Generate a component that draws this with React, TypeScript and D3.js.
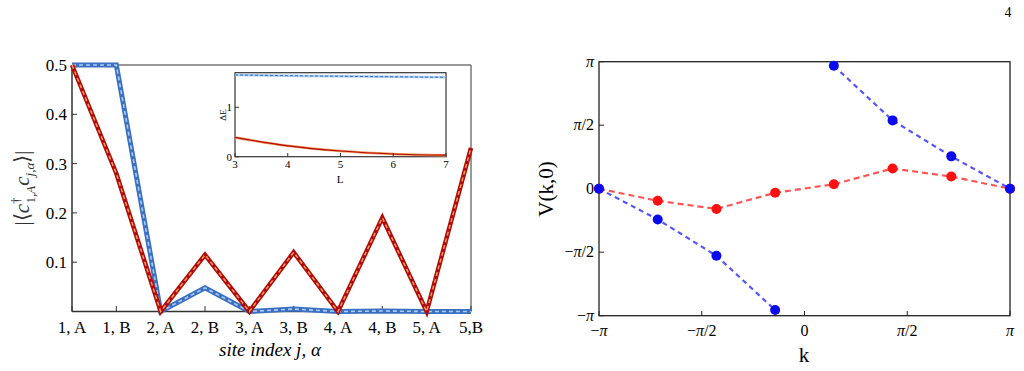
import React, { useEffect } from 'react';
import * as d3 from 'd3';

// left panel: correlation vs site
const sites = ['1, A', '1, B', '2, A', '2, B', '3, A', '3, B', '4, A', '4, B', '5, A', '5,B'];
const redCorr = [0.5, 0.28, 0, 0.115, 0, 0.12, 0, 0.19, 0, 0.332];
const blueCorr = [0.5, 0.5, 0, 0.048, 0, 0.005, 0, 0.001, 0, 0.0];
const corrTicks = [0.1, 0.2, 0.3, 0.4, 0.5];

// inset: gap vs L
const insetL = [3, 4, 5, 6, 7];
const insetRed = [0.39, 0.22, 0.115, 0.055, 0.03];
const insetBlue = [1.655, 1.64, 1.628, 1.617, 1.607];

// right panel: V(k,0)
const kIndex = [0, 1, 2, 3, 4, 5, 6, 7];
const redV = [0, -0.3, -0.5, -0.1, 0.11, 0.5, 0.3, 0];
const blueV = [0, -0.76, -1.66, -3.0, 3.04, 1.69, 0.8, 0];
const blueBreak = 4; // wrap between index 3 and 4
const piTicks = [-1, -0.5, 0, 0.5, 1];
const piLabels = [['\u2212', 'π', ''], ['\u2212', 'π', '/2'], ['', '', '0'], ['', 'π', '/2'], ['', 'π', '']];

const serif = '"Liberation Serif", "Times New Roman", serif';

const PiLabel = ({ parts }: { parts: string[] }) => (
  <>
    {parts[0]}
    <tspan fontStyle="italic">{parts[1]}</tspan>
    {parts[2]}
  </>
);

const App = () => {
  useEffect(() => {
    document.body.style.margin = '0';
  }, []);

  // left
  const x = d3.scalePoint().domain(sites).range([72, 471]);
  const y = d3.scaleLinear().domain([0, 0.5]).range([311.5, 65]);
  const line = d3.line<number>().x((d, i) => x(sites[i])!).y(d => y(d));

  // inset
  const ix = d3.scaleLinear().domain([3, 7]).range([235, 446]);
  const iy = d3.scaleLinear().domain([0, 1.7]).range([156.7, 72.7]);
  const iline = d3.line<number>().x((d, i) => ix(insetL[i])).y(d => iy(d)).curve(d3.curveMonotoneX);

  // right
  const rx = d3.scaleLinear().domain([-Math.PI, Math.PI]).range([599, 1010]);
  const ry = d3.scaleLinear().domain([-Math.PI, Math.PI]).range([315.7, 61.7]);
  const kVal = (i: number) => -Math.PI + (2 * Math.PI * i) / 7;
  const rline = d3.line<number>().x(i => rx(kVal(i))).y(i => ry(redV[i]));
  const bline = d3.line<number>().x(i => rx(kVal(i))).y(i => ry(blueV[i]));

  const blueA = kIndex.filter(i => i < blueBreak);
  const blueB = kIndex.filter(i => i >= blueBreak);

  return (
    <svg width={1024} height={371} style={{ display: 'block', fontFamily: serif }}>
      <text x={1008} y={17} fontSize={14} textAnchor="middle">4</text>

      {/* LEFT PANEL */}
      <g>
        <line x1={72} x2={471} y1={65} y2={65} stroke="#777" strokeWidth={1.5} />
        <line x1={471} x2={471} y1={65} y2={311.5} stroke="#777" strokeWidth={1.5} />
        <line x1={72} x2={471} y1={311.5} y2={311.5} stroke="#333" strokeWidth={1.5} />
        <line x1={72} x2={72} y1={65} y2={311.5} stroke="#333" strokeWidth={1.5} />
        {sites.map(s => (
          <g key={s}>
            <line x1={x(s)} x2={x(s)} y1={311.5} y2={306} stroke="#333" />
            <text x={x(s)} y={333} fontSize={17} textAnchor="middle">{s}</text>
          </g>
        ))}
        {corrTicks.map(t => (
          <g key={t}>
            <line x1={72} x2={77} y1={y(t)} y2={y(t)} stroke="#333" />
            <text x={67} y={y(t) + 6} fontSize={17} textAnchor="end">{t.toFixed(1)}</text>
          </g>
        ))}
        <text x={270} y={356} fontSize={19} fontStyle="italic" textAnchor="middle">site index j, α</text>
        <text transform="translate(29,188) rotate(-90)" fontSize={21} textAnchor="middle" fill="#333">
          |⟨<tspan fontStyle="italic">c</tspan>
          <tspan fontSize={13} dy={-9}>†</tspan>
          <tspan fontSize={13} dy={15} dx={-6}>1,</tspan>
          <tspan fontSize={13} fontStyle="italic">A</tspan>
          <tspan dy={-6} fontStyle="italic">c</tspan>
          <tspan fontSize={13} dy={5} fontStyle="italic">j,α</tspan>
          <tspan dy={-5}>⟩|</tspan>
        </text>

        <path d={line(blueCorr)!} fill="none" stroke="#3a6fc2" strokeWidth={5} strokeLinejoin="miter" />
        <path d={line(blueCorr)!} fill="none" stroke="#a9cdf2" strokeWidth={1.6} strokeDasharray="4,3" />
        <path d={line(redCorr)!} fill="none" stroke="#b00a0a" strokeWidth={4.5} strokeLinejoin="miter" />
        <path d={line(redCorr)!} fill="none" stroke="#f59a5a" strokeWidth={1.5} strokeDasharray="4,3" />
      </g>

      {/* INSET */}
      <g>
        <rect x={235} y={72.7} width={211} height={84} fill="white" stroke="#333" strokeWidth={1.2} />
        <path d={iline(insetBlue)!} fill="none" stroke="#a9cdf2" strokeWidth={2.5} />
        <path d={iline(insetBlue)!} fill="none" stroke="#2d5fb5" strokeWidth={0.9} strokeDasharray="3,2" />
        <path d={iline(insetRed)!} fill="none" stroke="#f59a5a" strokeWidth={2.5} />
        <path d={iline(insetRed)!} fill="none" stroke="#b00a0a" strokeWidth={1.2} />
        {insetL.map(l => (
          <g key={l}>
            <line x1={ix(l)} x2={ix(l)} y1={156.7} y2={153} stroke="#333" />
            <text x={ix(l)} y={168} fontSize={11} textAnchor="middle">{l}</text>
          </g>
        ))}
        {[0, 1].map(t => (
          <g key={t}>
            <line x1={235} x2={239} y1={iy(t)} y2={iy(t)} stroke="#333" />
            <text x={232} y={iy(t) + 4} fontSize={11} textAnchor="end">{t}</text>
          </g>
        ))}
        <text x={340} y={183} fontSize={11} textAnchor="middle">L</text>
        <text transform="translate(226,115) rotate(-90)" fontSize={9} textAnchor="middle">ΔE</text>
      </g>

      {/* RIGHT PANEL */}
      <g>
        <rect x={599} y={61.7} width={411} height={254} fill="none" stroke="#222" strokeWidth={1.3} />
        {piTicks.map((t, i) => (
          <g key={'x' + t}>
            <line x1={rx(t * Math.PI)} x2={rx(t * Math.PI)} y1={315.7} y2={311} stroke="#222" />
            <text x={rx(t * Math.PI)} y={336} fontSize={16} textAnchor="middle"><PiLabel parts={piLabels[i]} /></text>
          </g>
        ))}
        {piTicks.map((t, i) => (
          <g key={'y' + t}>
            <line x1={599} x2={604} y1={ry(t * Math.PI)} y2={ry(t * Math.PI)} stroke="#222" />
            <text x={594} y={ry(t * Math.PI) + 5} fontSize={16} textAnchor="end"><PiLabel parts={piLabels[i]} /></text>
          </g>
        ))}
        <text x={804} y={362} fontSize={21} textAnchor="middle">k</text>
        <text transform="translate(553,189) rotate(-90)" fontSize={21} textAnchor="middle">V(k,0)</text>

        <path d={rline(kIndex)!} fill="none" stroke="#ff5555" strokeWidth={2.2} strokeDasharray="6,4" />
        <path d={bline(blueA)!} fill="none" stroke="#5555ff" strokeWidth={2.2} strokeDasharray="5,4" />
        <path d={bline(blueB)!} fill="none" stroke="#5555ff" strokeWidth={2.2} strokeDasharray="5,4" />
        {kIndex.map(i => (
          <circle key={'r' + i} cx={rx(kVal(i))} cy={ry(redV[i])} r={5} fill="#ff1010" />
        ))}
        {kIndex.map(i => (
          <circle key={'b' + i} cx={rx(kVal(i))} cy={ry(blueV[i])} r={5} fill="#0a0aee" />
        ))}
      </g>
    </svg>
  );
};

export default App;
